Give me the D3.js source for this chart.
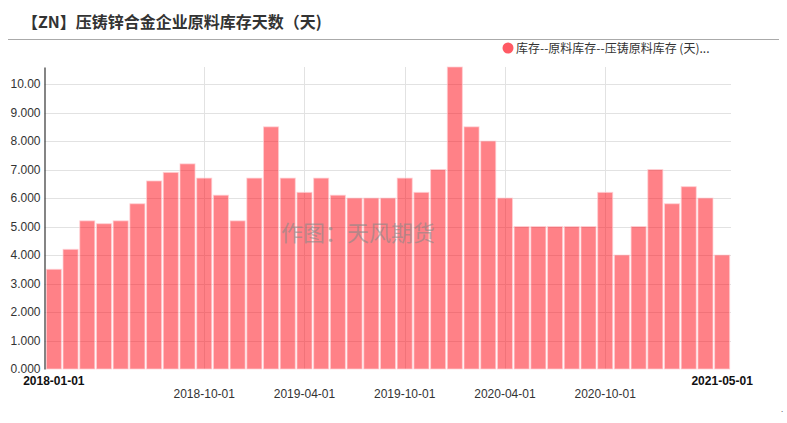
<!DOCTYPE html>
<html>
<head>
<meta charset="utf-8">
<script src="https://cdn.jsdelivr.net/npm/d3@7"></script>
<style>
  html, body { margin: 0; padding: 0; background: #fff; }
  svg { display: block; font-family: "Microsoft YaHei", "Noto Sans CJK SC", Arial, sans-serif; }
</style>
</head>
<body>
<svg id="chart" width="787" height="423"></svg>
<script>
const title = "【ZN】压铸锌合金企业原料库存天数（天)";
const seriesName = "库存--原料库存--压铸原料库存 (天)...";
const watermark = "作图：天风期货";

const months = [
  "2018-01-01","2018-02-01","2018-03-01","2018-04-01","2018-05-01","2018-06-01",
  "2018-07-01","2018-08-01","2018-09-01","2018-10-01","2018-11-01","2018-12-01",
  "2019-01-01","2019-02-01","2019-03-01","2019-04-01","2019-05-01","2019-06-01",
  "2019-07-01","2019-08-01","2019-09-01","2019-10-01","2019-11-01","2019-12-01",
  "2020-01-01","2020-02-01","2020-03-01","2020-04-01","2020-05-01","2020-06-01",
  "2020-07-01","2020-08-01","2020-09-01","2020-10-01","2020-11-01","2020-12-01",
  "2021-01-01","2021-02-01","2021-03-01","2021-04-01","2021-05-01"
];
const values = [
  3.5, 4.2, 5.2, 5.1, 5.2, 5.8,
  6.6, 6.9, 7.2, 6.7, 6.1, 5.2,
  6.7, 8.5, 6.7, 6.2, 6.7, 6.1,
  6.0, 6.0, 6.0, 6.7, 6.2, 7.0,
  10.6, 8.5, 8.0, 6.0, 5.0, 5.0,
  5.0, 5.0, 5.0, 6.2, 4.0, 5.0,
  7.0, 5.8, 6.4, 6.0, 4.0
];
const xTickLabels = ["2018-01-01","2018-10-01","2019-04-01","2019-10-01","2020-04-01","2020-10-01","2021-05-01"];
const boldTicks = ["2018-01-01","2021-05-01"];
const yTicks = [0,1,2,3,4,5,6,7,8,9,10];
const yMax = 10.6;

const svg = d3.select("#chart");

// Title
svg.append("text").attr("x", 22).attr("y", 28)
  .attr("font-size", 16).attr("font-weight", "bold").attr("fill", "#333")
  .text(title);
svg.append("line").attr("x1", 8).attr("x2", 779).attr("y1", 39.5).attr("y2", 39.5)
  .attr("stroke", "#aaa").attr("stroke-width", 1);

// Legend
svg.append("circle").attr("cx", 508).attr("cy", 48).attr("r", 5.5).attr("fill", "#ff5a64");
svg.append("text").attr("x", 516).attr("y", 52.5).attr("font-size", 12).attr("fill", "#333")
  .text(seriesName);

const plotLeft = 44.5, plotRight = 731, plotTop = 67, plotBottom = 369;

const x = d3.scaleBand().domain(months).range([45.5, 730.5]).paddingInner(0.1).paddingOuter(0.05);
const y = d3.scaleLinear().domain([0, yMax]).range([plotBottom, plotTop]);

// Horizontal grid
svg.append("g").selectAll("line").data(yTicks.filter(d => d > 0)).join("line")
  .attr("x1", plotLeft).attr("x2", plotRight)
  .attr("y1", d => Math.round(y(d)) + 0.5).attr("y2", d => Math.round(y(d)) + 0.5)
  .attr("stroke", "#e2e2e2").attr("stroke-width", 1);

// Vertical grid at interior ticks
svg.append("g").selectAll("line").data(xTickLabels.filter(d => !boldTicks.includes(d))).join("line")
  .attr("x1", d => Math.round(x(d) + x.bandwidth() / 2) + 0.5)
  .attr("x2", d => Math.round(x(d) + x.bandwidth() / 2) + 0.5)
  .attr("y1", plotTop).attr("y2", plotBottom)
  .attr("stroke", "#e2e2e2").attr("stroke-width", 1);

// Bars
svg.append("g").selectAll("rect").data(months).join("rect")
  .attr("x", d => x(d))
  .attr("width", x.bandwidth())
  .attr("y", (d, i) => y(values[i]))
  .attr("height", (d, i) => y(0) - y(values[i]))
  .attr("fill", "rgb(255,3,15)").attr("fill-opacity", 0.5)
  .attr("stroke", "#ffd0d4").attr("stroke-width", 1).attr("stroke-opacity", 0.7);

// Y axis
const yAxis = d3.axisLeft(y).tickValues(yTicks).tickSize(0).tickPadding(4)
  .tickFormat(d => d >= 10 ? d.toFixed(2) : d.toFixed(3));
const gy = svg.append("g").attr("transform", `translate(${plotLeft},0)`).call(yAxis);
gy.select(".domain").attr("stroke", "#333").attr("stroke-width", 1.2);
gy.selectAll("text").attr("font-size", 12).attr("fill", "#333")
  .attr("font-family", "Arial, 'Liberation Sans', sans-serif");

// X tick labels
svg.append("g").selectAll("text").data(xTickLabels).join("text")
  .attr("x", d => x(d) + x.bandwidth() / 2)
  .attr("y", d => boldTicks.includes(d) ? 385 : 398)
  .attr("text-anchor", "middle")
  .attr("font-size", 12)
  .attr("font-family", "Arial, 'Liberation Sans', sans-serif")
  .attr("font-weight", d => boldTicks.includes(d) ? "bold" : "normal")
  .attr("fill", d => boldTicks.includes(d) ? "#111" : "#333")
  .text(d => d);

// Watermark
svg.append("text").attr("x", 358).attr("y", 241).attr("text-anchor", "middle")
  .attr("font-size", 22).attr("fill", "#888").attr("fill-opacity", 0.6)
  .text(watermark);

svg.append("text").attr("x", 781).attr("y", 412).attr("font-size", 8).attr("fill", "#666").text(".");
</script>
</body>
</html>
